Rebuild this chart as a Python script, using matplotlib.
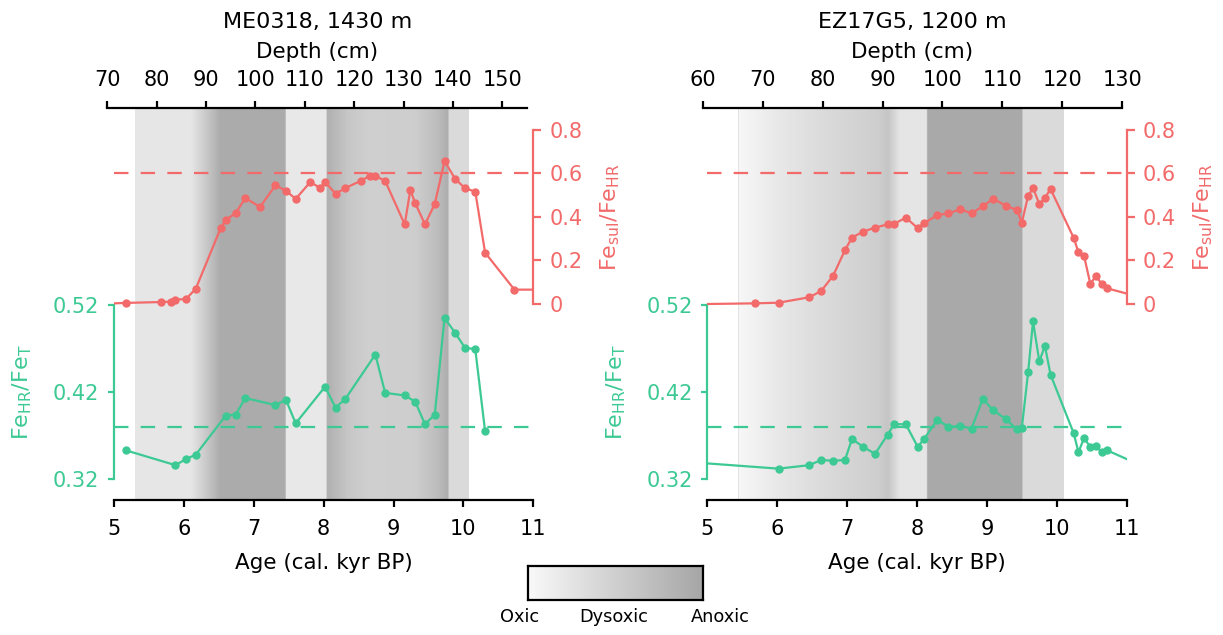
import numpy as np
import matplotlib
matplotlib.use('Agg')
import matplotlib.pyplot as plt
from matplotlib.colors import LinearSegmentedColormap

plt.rcParams['font.family'] = ['DejaVu Sans']
plt.rcParams['mathtext.fontset'] = 'dejavusans'

RED = '#f26a6a'
GREEN = '#3cc994'
W, H = 1223, 635
FS = 15

# thresholds
SUL_LIMIT = 0.6
HR_LIMIT = 0.38

# ME0318 core
me_age_sul = [5.17, 5.67, 5.81, 5.88, 6.03, 6.17, 6.53, 6.60, 6.74, 6.88, 7.09, 7.31,
              7.46, 7.60, 7.81, 7.95, 8.02, 8.17, 8.31, 8.53, 8.66, 8.74, 8.88, 9.16,
              9.24, 9.31, 9.45, 9.59, 9.73, 9.88, 10.02, 10.17, 10.31, 10.73]
me_sul = [0.005, 0.009, 0.011, 0.020, 0.023, 0.070, 0.351, 0.386, 0.418, 0.487, 0.446, 0.546,
          0.521, 0.483, 0.561, 0.533, 0.561, 0.507, 0.533, 0.566, 0.589, 0.589, 0.566, 0.366,
          0.524, 0.464, 0.366, 0.460, 0.657, 0.576, 0.533, 0.516, 0.236, 0.066]
me_sul_edges = (0.003, 0.066)

me_age_hr = [5.17, 5.88, 6.03, 6.17, 6.60, 6.74, 6.88, 7.31, 7.46, 7.60, 8.02, 8.17,
             8.31, 8.74, 8.88, 9.16, 9.31, 9.45, 9.59, 9.73, 9.88, 10.02, 10.17, 10.31]
me_hr = [0.353, 0.336, 0.343, 0.348, 0.393, 0.394, 0.413, 0.405, 0.411, 0.384, 0.426, 0.402,
         0.412, 0.463, 0.419, 0.416, 0.409, 0.383, 0.394, 0.505, 0.488, 0.471, 0.469, 0.375]
me_hr_edges = None

# redox shading (0 = oxic, 1 = anoxic)
me_shade_age = [5.30, 6.09, 6.30, 6.52, 7.45, 7.45, 8.04, 8.04, 8.35, 8.65, 9.30, 9.62,
                9.78, 9.78, 10.07]
me_shade_level = [0.22, 0.22, 0.55, 0.93, 0.93, 0.20, 0.20, 0.88, 0.60, 0.50, 0.52, 0.72,
                  0.92, 0.37, 0.37]

# EZ17G5 core
ez_age_sul = [5.68, 6.02, 6.46, 6.63, 6.80, 6.97, 7.07, 7.23, 7.40, 7.58, 7.67, 7.84,
              8.01, 8.10, 8.29, 8.45, 8.62, 8.78, 8.94, 9.09, 9.27, 9.43, 9.50, 9.59,
              9.66, 9.75, 9.83, 9.91, 10.24, 10.31, 10.39, 10.48, 10.56, 10.64, 10.72]
ez_sul = [0.003, 0.006, 0.031, 0.060, 0.130, 0.248, 0.305, 0.333, 0.351, 0.366, 0.368, 0.397,
          0.349, 0.372, 0.408, 0.417, 0.435, 0.417, 0.449, 0.484, 0.452, 0.432, 0.374, 0.498,
          0.533, 0.460, 0.487, 0.529, 0.305, 0.238, 0.221, 0.092, 0.129, 0.093, 0.072]
ez_sul_edges = (0.0, 0.048)

ez_age_hr = [6.02, 6.46, 6.63, 6.80, 6.97, 7.07, 7.23, 7.40, 7.58, 7.67, 7.84, 8.01,
             8.10, 8.29, 8.45, 8.62, 8.78, 8.94, 9.09, 9.27, 9.43, 9.50, 9.59, 9.66,
             9.75, 9.83, 9.91, 10.24, 10.31, 10.39, 10.48, 10.56, 10.64, 10.72]
ez_hr = [0.332, 0.336, 0.342, 0.341, 0.342, 0.366, 0.357, 0.349, 0.371, 0.383, 0.383, 0.357,
         0.366, 0.388, 0.380, 0.381, 0.378, 0.412, 0.399, 0.389, 0.377, 0.379, 0.443, 0.501,
         0.455, 0.473, 0.440, 0.373, 0.351, 0.367, 0.357, 0.358, 0.351, 0.353]
ez_hr_edges = (0.338, 0.343)

ez_shade_age = [5.44, 6.0, 6.6, 7.45, 7.58, 7.75, 8.14, 8.14, 9.50, 9.50, 10.09]
ez_shade_level = [0.02, 0.20, 0.35, 0.52, 0.62, 0.24, 0.24, 0.95, 0.95, 0.37, 0.37]

age_ticks = [5, 6, 7, 8, 9, 10, 11]
hr_ticks = [0.32, 0.42, 0.52]
sul_ticks = [0, 0.2, 0.4, 0.6, 0.8]
sul_ticklabels = ['0', '0.2', '0.4', '0.6', '0.8']
redox_labels = ['Oxic', 'Dysoxic', 'Anoxic']

REDOX = LinearSegmentedColormap.from_list('redox', ['#f9f9f9', '#a6a6a6'])


def px_rect(x0, x1, y0, y1):
    # pixel box (top-left origin) -> figure fraction
    return [x0 / W, 1 - y1 / H, (x1 - x0) / W, (y1 - y0) / H]


def with_edges(ages, vals, edges):
    if edges is None:
        return ages, vals
    return [5] + list(ages) + [11], [edges[0]] + list(vals) + [edges[1]]


def draw_panel(fig, x0, x1, tx0, tx1, title, depth_lim, depth_ticks,
               shade_age, shade_level, age_sul, sul, sul_edges,
               age_hr, hr, hr_edges, edge_line=False):
    hr_lim = (0.296, 0.746)
    sul_lim = (-0.901, 0.901)

    ax = fig.add_axes(px_rect(x0, x1, 108, 500))
    grid = np.linspace(shade_age[0], shade_age[-1], 800)
    level = np.interp(grid, shade_age, shade_level)
    ax.imshow(level[None, :], cmap=REDOX, vmin=0, vmax=1, aspect='auto',
              extent=[shade_age[0], shade_age[-1], hr_lim[0], hr_lim[1]],
              interpolation='bilinear', zorder=0)
    if edge_line:
        ax.axvline(shade_age[0], color='#e2e2e2', lw=0.7, zorder=0.5)
    ax.set_xlim(5, 11)
    ax.set_ylim(*hr_lim)

    # Fe_HR / Fe_T
    lx, ly = with_edges(age_hr, hr, hr_edges)
    ax.plot(lx, ly, color=GREEN, lw=1.6, zorder=3)
    ax.plot(age_hr, hr, 'o', color=GREEN, ms=5, zorder=4)
    ax.axhline(HR_LIMIT, color=GREEN, lw=1.6, dashes=(6.5, 5.5), zorder=2)

    for s in ('top', 'right'):
        ax.spines[s].set_visible(False)
    ax.spines['left'].set_color(GREEN)
    ax.spines['left'].set_linewidth(1.6)
    ax.spines['left'].set_bounds(hr_ticks[0], hr_ticks[-1])
    ax.spines['bottom'].set_linewidth(1.6)
    ax.set_yticks(hr_ticks)
    ax.set_yticklabels([f'{v:.2f}' for v in hr_ticks])
    ax.tick_params(axis='y', colors=GREEN, length=4.6, width=1.6, labelsize=FS, pad=6)
    ax.set_xticks(age_ticks)
    ax.tick_params(axis='x', length=5, width=1.6, labelsize=FS, pad=8.5)
    ax.set_xlabel('Age (cal. kyr BP)', fontsize=FS + 0.5, labelpad=10.5)
    ax.set_ylabel(r'Fe$_{\rm HR}$/Fe$_{\rm T}$', color=GREEN, fontsize=FS + 1)
    ax.yaxis.set_label_coords(-0.19, 0.276)

    # Fe_sul / Fe_HR
    axr = ax.twinx()
    axr.set_ylim(*sul_lim)
    lx, ly = with_edges(age_sul, sul, sul_edges)
    axr.plot(lx, ly, color=RED, lw=1.6, zorder=3)
    axr.plot(age_sul, sul, 'o', color=RED, ms=5, zorder=4)
    axr.axhline(SUL_LIMIT, color=RED, lw=1.6, dashes=(6.5, 5.5), zorder=2)
    for s in ('top', 'left', 'bottom'):
        axr.spines[s].set_visible(False)
    axr.spines['right'].set_color(RED)
    axr.spines['right'].set_linewidth(1.6)
    axr.spines['right'].set_bounds(sul_ticks[0], sul_ticks[-1])
    axr.set_yticks(sul_ticks)
    axr.set_yticklabels(sul_ticklabels)
    axr.tick_params(axis='y', colors=RED, length=5.5, width=1.6, labelsize=FS, pad=6)
    axr.set_ylabel(r'Fe$_{\rm sul}$/Fe$_{\rm HR}$', color=RED, fontsize=FS + 1)
    axr.yaxis.set_label_coords(1.155, 0.722)

    # depth scale on top
    axt = fig.add_axes(px_rect(tx0, tx1, 108, 500))
    axt.patch.set_visible(False)
    for s in ('bottom', 'left', 'right'):
        axt.spines[s].set_visible(False)
    axt.spines['top'].set_linewidth(1.6)
    axt.set_xlim(*depth_lim)
    axt.set_yticks([])
    axt.set_xticks(depth_ticks)
    axt.xaxis.tick_top()
    axt.xaxis.set_label_position('top')
    axt.tick_params(axis='x', length=4.75, width=1.6, labelsize=FS, pad=8.2)
    axt.set_xlabel('Depth (cm)', fontsize=FS + 0.5, labelpad=8.5)
    axt.set_title(title, fontsize=FS + 1, pad=10)
    return ax


fig = plt.figure(figsize=(W / 100, H / 100), dpi=100)

draw_panel(fig, 114, 533.3, 107.3, 527, 'ME0318, 1430 m', (70, 155), range(70, 151, 10),
           me_shade_age, me_shade_level, me_age_sul, me_sul, me_sul_edges,
           me_age_hr, me_hr, me_hr_edges)
draw_panel(fig, 707.3, 1126.7, 702.7, 1122.3, 'EZ17G5, 1200 m', (60, 130), range(60, 131, 10),
           ez_shade_age, ez_shade_level, ez_age_sul, ez_sul, ez_sul_edges,
           ez_age_hr, ez_hr, ez_hr_edges, edge_line=True)

# redox legend bar
cax = fig.add_axes(px_rect(528, 703, 566, 600))
cax.imshow(np.linspace(0, 1, 256)[None, :], cmap=REDOX, aspect='auto', extent=[0, 1, 0, 1])
cax.set_xticks([])
cax.set_yticks([])
for s in cax.spines.values():
    s.set_linewidth(1.6)
for xpos, lab in zip([-0.051, 0.49, 1.097], redox_labels):
    cax.text(xpos, -0.5, lab, transform=cax.transAxes, ha='center', va='center', fontsize=12.8)

fig.savefig('out.png', dpi=100)
